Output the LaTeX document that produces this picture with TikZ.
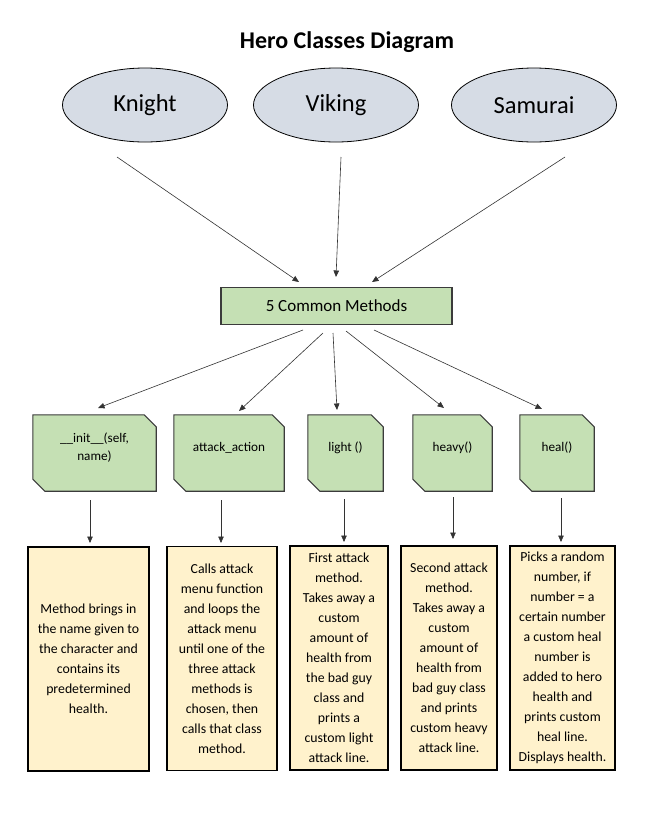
\documentclass[tikz,border=0pt]{standalone}
\usepackage{fontspec}
\setmainfont{Carlito}
\usetikzlibrary{arrows.meta,shapes.geometric}
\definecolor{ellfill}{HTML}{D6DCE5}
\definecolor{grn}{HTML}{C5E0B4}
\definecolor{grnline}{HTML}{3B3B3B}
\definecolor{ylw}{HTML}{FFF2CC}
\tikzset{
  ell/.style={ellipse, draw=black, line width=0.8pt, fill=ellfill, minimum width=165pt, minimum height=74pt, inner sep=0pt, font=\fontsize{24.5}{28}\selectfont},
  commonbox/.style={rectangle, draw=grnline, line width=1.1pt, fill=grn, minimum width=231pt, minimum height=37pt, inner sep=0pt, font=\fontsize{17}{20}\selectfont},
  methbox/.style={rectangle, draw=none, minimum height=76pt, inner sep=0pt},
  chamf/.style={draw=grnline, line width=1.1pt, fill=grn},
  methtext/.style={align=center, inner sep=0pt, font=\fontsize{13.2}{18}\selectfont},
  descbox/.style={rectangle, draw=black, line width=1.1pt, fill=ylw, minimum height=224pt, inner sep=0pt, align=center, font=\fontsize{13.8}{20}\selectfont},
  arr/.style={-{Triangle[length=6.5pt,width=5.5pt]}, draw=black!80, line width=0.6pt},
  titlestyle/.style={font=\fontsize{24}{28}\selectfont\bfseries, inner sep=0pt}
}
\newcommand{\chamfer}[1]{%
  \path[chamf] (#1.north west) -- ([xshift=-12pt]#1.north east) -- ([yshift=-12pt]#1.north east)
    -- (#1.south east) -- ([xshift=12pt]#1.south west) -- ([yshift=12pt]#1.south west) -- cycle;}
\begin{document}
\begin{tikzpicture}[x=1pt,y=-1pt]
\useasboundingbox (0,0) rectangle (658,814);
\fill[white] (0,0) rectangle (658,814);

\node[titlestyle] (title) at (347,42) {Hero Classes Diagram};

\node[ell] (knight) at (145,105) {Knight};
\node[ell] (viking) at (336,105) {Viking};
\node[ell] (samurai) at (534,105) {Samurai};

\node[commonbox] (common) at (336.5,306) {5 Common Methods};

% method boxes
\node[methbox, minimum width=123pt] (m1) at (94.5,453) {};
\node[methbox, minimum width=110pt] (m2) at (229,453) {};
\node[methbox, minimum width=75pt] (m3) at (345.5,453) {};
\node[methbox, minimum width=79pt] (m4) at (452.5,453) {};
\node[methbox, minimum width=74pt] (m5) at (557,453) {};
\chamfer{m1}\chamfer{m2}\chamfer{m3}\chamfer{m4}\chamfer{m5}
\node[methtext] (m1t) at ([yshift=5pt]m1.center) {\_\_init\_\_(self,\\name)};
\node[methtext] (m2t) at ([yshift=5pt]m2.center) {attack\_action};
\node[methtext] (m3t) at ([yshift=5pt]m3.center) {light ()};
\node[methtext] (m4t) at ([yshift=5pt]m4.center) {heavy()};
\node[methtext] (m5t) at ([yshift=5pt]m5.center) {heal()};

% description boxes
\node[descbox, minimum width=121pt] (d1) at (88.5,659) {Method brings in\\the name given to\\the character and\\contains its\\predetermined\\health.};
\node[descbox, minimum width=110pt] (d2) at (222,658.5) {Calls attack\\menu function\\and loops the\\attack menu\\until one of the\\three attack\\methods is\\chosen, then\\calls that class\\method.};
\node[descbox, minimum width=98pt] (d3) at (339,658) {First attack\\method.\\Takes away a\\custom\\amount of\\health from\\the bad guy\\class and\\prints a\\custom light\\attack line.};
\node[descbox, minimum width=96pt] (d4) at (449,658) {Second attack\\method.\\Takes away a\\custom\\amount of\\health from\\bad guy class\\and prints\\custom heavy\\attack line.};
\node[descbox, minimum width=105pt] (d5) at (562.5,658) {Picks a random\\number, if\\number = a\\certain number\\a custom heal\\number is\\added to hero\\health and\\prints custom\\heal line.\\Displays health.};

% connector start points
\coordinate (ks) at (117,157);
\coordinate (vs) at (341,157);
\coordinate (ss) at (565,157);
\coordinate (kt) at (299,282);
\coordinate (vt) at (336,277);
\coordinate (st) at (372,282);
\draw[arr] (ks) -- (kt);
\draw[arr] (vs) -- (vt);
\draw[arr] (ss) -- (st);

\coordinate (c1) at (303,330);
\coordinate (c2) at (323,333);
\coordinate (c3) at (333,333);
\coordinate (c4) at (346,331);
\coordinate (c5) at (374,330);
\coordinate (t1) at (98,408);
\coordinate (t2) at (239,411);
\coordinate (t3) at (337,410);
\coordinate (t4) at (444,408);
\coordinate (t5) at (542,409);
\foreach \i in {1,...,5} {\draw[arr] (c\i) -- (t\i);}

\coordinate (v1s) at (90,500);  \coordinate (v1e) at (90,543);
\coordinate (v2s) at (221,500); \coordinate (v2e) at (221,543);
\coordinate (v3s) at (344,499); \coordinate (v3e) at (344,542);
\coordinate (v4s) at (453,497); \coordinate (v4e) at (453,539);
\coordinate (v5s) at (561,498); \coordinate (v5e) at (561,542);
\foreach \i in {1,...,5} {\draw[arr] (v\i s) -- (v\i e);}
\end{tikzpicture}
\end{document}
